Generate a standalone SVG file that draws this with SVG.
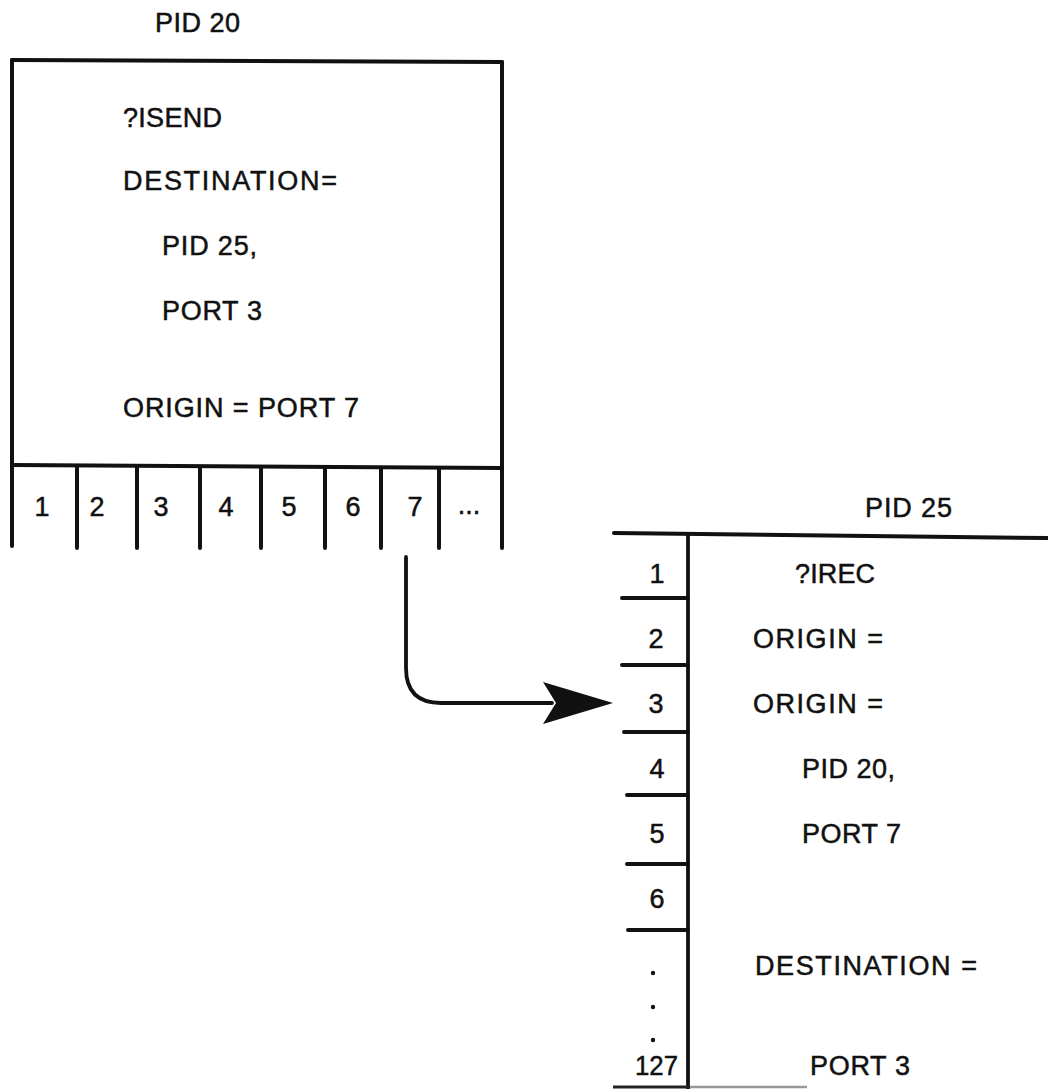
<svg xmlns="http://www.w3.org/2000/svg" width="1048" height="1089" viewBox="0 0 1048 1089">
<style>
  .t { font-family: "Liberation Sans", Arial, sans-serif; font-size: 27px; fill: #111; stroke: #111; stroke-width: 0.5; }
  .n { font-family: "Liberation Sans", Arial, sans-serif; font-size: 27px; fill: #111; stroke: #111; stroke-width: 0.5; text-anchor: middle; }
  .ln { stroke: #111; stroke-width: 4; fill: none; stroke-linecap: round; }
  .thin { stroke: #111; stroke-width: 3.8; fill: none; stroke-linecap: round; }
</style>
<rect width="1048" height="1089" fill="#fff"/>

<g id="pid20">
  <text class="t" x="155" y="32" textLength="85" lengthAdjust="spacing">PID 20</text>
  <path class="ln" d="M12,60 L502,62"/>
  <path class="ln" d="M12,60 L12,546"/>
  <path class="ln" d="M502,62 L502,548"/>
  <path class="ln" d="M12,465 L502,468"/>
  <text class="t" x="123" y="127" textLength="99" lengthAdjust="spacing">?ISEND</text>
  <text class="t" x="123" y="190" textLength="214" lengthAdjust="spacing">DESTINATION=</text>
  <text class="t" x="162" y="255" textLength="95" lengthAdjust="spacing">PID 25,</text>
  <text class="t" x="162" y="320" textLength="100" lengthAdjust="spacing">PORT 3</text>
  <text class="t" x="123" y="417" textLength="236" lengthAdjust="spacing">ORIGIN = PORT 7</text>
  <g id="pid20-ports">
    <path class="ln" d="M77,466 V548 M137,466 V548 M200,467 V548 M261,467 V548 M325,467 V548 M381,468 V548 M439,468 V548"/>
    <text class="n" x="42" y="516">1</text>
    <text class="n" x="97" y="516">2</text>
    <text class="n" x="161" y="516">3</text>
    <text class="n" x="226" y="516">4</text>
    <text class="n" x="289" y="516">5</text>
    <text class="n" x="353" y="516">6</text>
    <text class="n" x="415" y="516">7</text>
    <text class="n" x="469" y="514">...</text>
  </g>
</g>

<g id="pid25">
  <text class="t" x="865" y="517" textLength="87" lengthAdjust="spacing">PID 25</text>
  <path class="ln" d="M614,533 L1048,538"/>
  <path class="thin" d="M688,535 L688,1089"/>
  <path class="ln" d="M622,598 H688 M622,665 H688 M624,732 H688 M627,795 H688 M627,864 H688 M628,930 H688"/>
  <path d="M613,1087 H690" stroke="#222" stroke-width="3"/>
  <path d="M690,1087 H807" stroke="#999" stroke-width="2.5"/>
  <text class="n" x="657" y="583">1</text>
  <text class="n" x="656" y="648">2</text>
  <text class="n" x="656" y="713">3</text>
  <text class="n" x="657" y="778">4</text>
  <text class="n" x="657" y="843">5</text>
  <text class="n" x="657" y="908">6</text>
  <circle cx="653" cy="973" r="2.2" fill="#111"/>
  <circle cx="653" cy="1007" r="2.2" fill="#111"/>
  <circle cx="653" cy="1040" r="2.2" fill="#111"/>
  <text class="t" x="635" y="1075" textLength="43" lengthAdjust="spacingAndGlyphs">127</text>
  <text class="t" x="795" y="583" textLength="80" lengthAdjust="spacing">?IREC</text>
  <text class="t" x="753" y="648" textLength="130" lengthAdjust="spacing">ORIGIN =</text>
  <text class="t" x="753" y="713" textLength="130" lengthAdjust="spacing">ORIGIN =</text>
  <text class="t" x="802" y="778" textLength="93" lengthAdjust="spacing">PID 20,</text>
  <text class="t" x="802" y="843" textLength="99" lengthAdjust="spacing">PORT 7</text>
  <text class="t" x="755" y="975" textLength="222" lengthAdjust="spacing">DESTINATION =</text>
  <text class="t" x="810" y="1075" textLength="100" lengthAdjust="spacing">PORT 3</text>
</g>

<g id="connectors">
  <path class="thin" d="M406,557 V668 Q406,703 441,703 H552"/>
  <path d="M613,703 L543,682 L556,703 L543,724 Z" fill="#111"/>
</g>
</svg>
